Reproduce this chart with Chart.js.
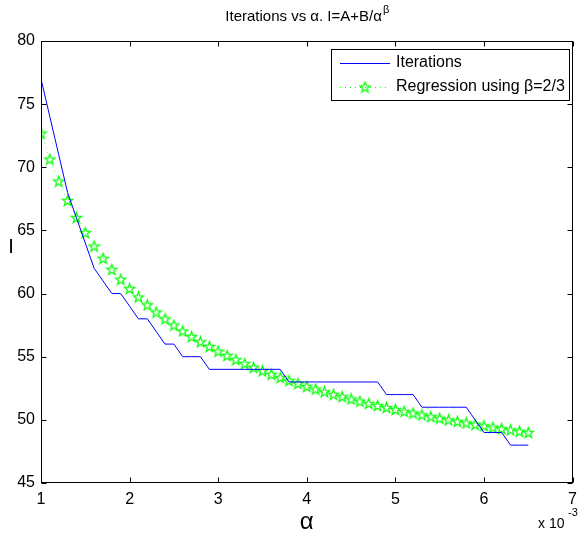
<!DOCTYPE html>
<html>
<head>
<meta charset="utf-8">
<script src="https://cdn.jsdelivr.net/npm/chart.js@4.4.1/dist/chart.umd.min.js"></script>
<style>
  html, body { margin: 0; padding: 0; background: #fff; }
  #wrap { width: 584px; height: 538px; position: relative; }
</style>
</head>
<body>
<div id="wrap"><canvas id="chart"></canvas></div>
<script>
// alpha values (x 10^-3)
const alphaVals = [1.0, 1.1, 1.2, 1.3, 1.4, 1.5, 1.6, 1.7, 1.8, 1.9,
    2.0, 2.1, 2.2, 2.3, 2.4, 2.5, 2.6, 2.7, 2.8, 2.9,
    3.0, 3.1, 3.2, 3.3, 3.4, 3.5, 3.6, 3.7, 3.8, 3.9,
    4.0, 4.1, 4.2, 4.3, 4.4, 4.5, 4.6, 4.7, 4.8, 4.9,
    5.0, 5.1, 5.2, 5.3, 5.4, 5.5, 5.6, 5.7, 5.8, 5.9,
    6.0, 6.1, 6.2, 6.3, 6.4, 6.5];

const iterations = [77, 74, 71, 68, 66, 64, 62, 61, 60, 60,
    59, 58, 58, 57, 56, 56, 55, 55, 55, 54,
    54, 54, 54, 54, 54, 54, 54, 54, 53, 53,
    53, 53, 53, 53, 53, 53, 53, 53, 53, 52,
    52, 52, 52, 51, 51, 51, 51, 51, 51, 50,
    49, 49, 49, 48, 48, 48];

const regression = [72.70, 70.65, 68.90, 67.37, 66.02, 64.83, 63.76, 62.80, 61.92, 61.13,
    60.40, 59.73, 59.11, 58.54, 58.00, 57.51, 57.04, 56.60, 56.19, 55.81,
    55.44, 55.10, 54.77, 54.46, 54.16, 53.88, 53.61, 53.36, 53.11, 52.88,
    52.65, 52.44, 52.23, 52.03, 51.84, 51.66, 51.48, 51.31, 51.14, 50.98,
    50.83, 50.68, 50.54, 50.40, 50.26, 50.13, 50.00, 49.88, 49.76, 49.64,
    49.53, 49.42, 49.31, 49.21, 49.10, 49.00];

const xTicks = [1, 2, 3, 4, 5, 6, 7];
const yTicks = [45, 50, 55, 60, 65, 70, 75, 80];

const FONT = '"Liberation Sans", Arial, Helvetica, sans-serif';

// pentagram marker (MATLAB 'p')
function makeStar(size) {
    const c = document.createElement('canvas');
    c.width = size; c.height = size;
    const g = c.getContext('2d');
    const cx = size / 2, cy = size / 2 + 0.5;
    const R = size / 2 - 1, r = R * 0.4;
    g.beginPath();
    for (let i = 0; i < 10; i++) {
        const rad = i % 2 === 0 ? R : r;
        const a = -Math.PI / 2 + i * Math.PI / 5;
        const px = cx + rad * Math.cos(a);
        const py = cy + rad * Math.sin(a);
        if (i === 0) g.moveTo(px, py); else g.lineTo(px, py);
    }
    g.closePath();
    g.strokeStyle = '#00ff00';
    g.lineWidth = 1.2;
    g.stroke();
    return c;
}
const starImg = makeStar(13);

// Box, inward ticks, title, labels and legend
const matlabPlugin = {
    id: 'matlabAxes',
    afterDraw(chart) {
        const ctx = chart.ctx;
        const a = chart.chartArea;
        const xs = chart.scales.x, ys = chart.scales.y;
        ctx.save();
        ctx.strokeStyle = '#000';
        ctx.lineWidth = 1;
        const L = Math.round(a.left) + 0.5, R = Math.round(a.right) - 0.5;
        const T = Math.round(a.top) + 0.5, B = Math.round(a.bottom) - 0.5;
        ctx.strokeRect(L, T, R - L, B - T);
        ctx.beginPath();
        xTicks.forEach(v => {
            const px = Math.round(xs.getPixelForValue(v)) + 0.5;
            ctx.moveTo(px, B); ctx.lineTo(px, B - 5);
            ctx.moveTo(px, T); ctx.lineTo(px, T + 5);
        });
        yTicks.forEach(v => {
            const py = Math.round(ys.getPixelForValue(v)) + 0.5;
            ctx.moveTo(L, py); ctx.lineTo(L + 5, py);
            ctx.moveTo(R, py); ctx.lineTo(R - 5, py);
        });
        ctx.stroke();

        ctx.fillStyle = '#000';
        // title
        ctx.font = '15px ' + FONT;
        ctx.textBaseline = 'middle';
        const t1 = 'Iterations vs \u03b1. I=A+B/\u03b1';
        const w1 = ctx.measureText(t1).width;
        ctx.font = '11px ' + FONT;
        const w2 = ctx.measureText('\u03b2').width;
        const tx = (a.left + a.right) / 2 - (w1 + w2) / 2;
        ctx.font = '15px ' + FONT;
        ctx.textAlign = 'left';
        ctx.fillText(t1, tx, 17);
        ctx.font = '11px ' + FONT;
        ctx.fillText('\u03b2', tx + w1 + 1, 10);

        // axis labels
        ctx.textAlign = 'center';
        ctx.font = '24px ' + FONT;
        ctx.fillText('\u03b1', (a.left + a.right) / 2, 522);
        ctx.font = '20px ' + FONT;
        ctx.fillText('I', 11, 247);

        // exponent label
        ctx.textAlign = 'left';
        ctx.font = '14px ' + FONT;
        ctx.fillText('x 10', 538, 524);
        ctx.font = '11px ' + FONT;
        ctx.fillText('-3', 568, 513);

        // legend
        const lx = 331, ly = 49, lw = 238, lh = 51;
        ctx.fillStyle = '#fff';
        ctx.fillRect(lx, ly, lw, lh);
        ctx.strokeStyle = '#000';
        ctx.strokeRect(lx + 0.5, ly + 0.5, lw, lh);
        ctx.strokeStyle = '#0000ff';
        ctx.beginPath();
        ctx.moveTo(340, 63.5); ctx.lineTo(390, 63.5);
        ctx.stroke();
        ctx.strokeStyle = '#00ff00';
        ctx.setLineDash([1, 4]);
        ctx.beginPath();
        ctx.moveTo(340, 87.5); ctx.lineTo(390, 87.5);
        ctx.stroke();
        ctx.setLineDash([]);
        ctx.drawImage(starImg, 365 - 6.5, 87 - 6.5);
        ctx.fillStyle = '#000';
        ctx.font = '16px ' + FONT;
        ctx.textBaseline = 'middle';
        ctx.fillText('Iterations', 396, 63);
        ctx.fillText('Regression using \u03b2=2/3', 396, 87);
        ctx.restore();
    }
};

new Chart(document.getElementById('chart'), {
    type: 'line',
    data: {
        datasets: [
            {
                label: 'Iterations',
                data: alphaVals.map((x, i) => ({ x: x, y: iterations[i] })),
                borderColor: '#0000ff',
                borderWidth: 1,
                pointRadius: 0,
                tension: 0,
                fill: false
            },
            {
                label: 'Regression using \u03b2=2/3',
                data: alphaVals.map((x, i) => ({ x: x, y: regression[i] })),
                borderColor: '#00ff00',
                borderWidth: 0.6,
                borderDash: [1, 4],
                pointStyle: starImg,
                pointRadius: 6,
                tension: 0,
                fill: false
            }
        ]
    },
    options: {
        responsive: true,
        maintainAspectRatio: false,
        animation: false,
        devicePixelRatio: 1,
        layout: { padding: { top: 41, right: 3, left: 0, bottom: 0 } },
        plugins: {
            legend: { display: false },
            title: { display: false },
            tooltip: { enabled: false }
        },
        scales: {
            x: {
                type: 'linear',
                min: 1,
                max: 7,
                afterFit: (s) => { s.height = 55; },
                afterBuildTicks: (s) => { s.ticks = xTicks.map(v => ({ value: v })); },
                grid: { display: false, drawTicks: false },
                border: { display: false },
                ticks: {
                    color: '#000',
                    font: { family: FONT, size: 16 },
                    padding: 7,
                    maxRotation: 0
                }
            },
            y: {
                type: 'linear',
                min: 45,
                max: 80,
                afterFit: (s) => { s.width = 41; },
                afterBuildTicks: (s) => { s.ticks = yTicks.map(v => ({ value: v })); },
                grid: { display: false, drawTicks: false },
                border: { display: false },
                ticks: {
                    color: '#000',
                    font: { family: FONT, size: 16 },
                    padding: 6
                }
            }
        }
    },
    plugins: [matlabPlugin]
});
</script>
</body>
</html>
